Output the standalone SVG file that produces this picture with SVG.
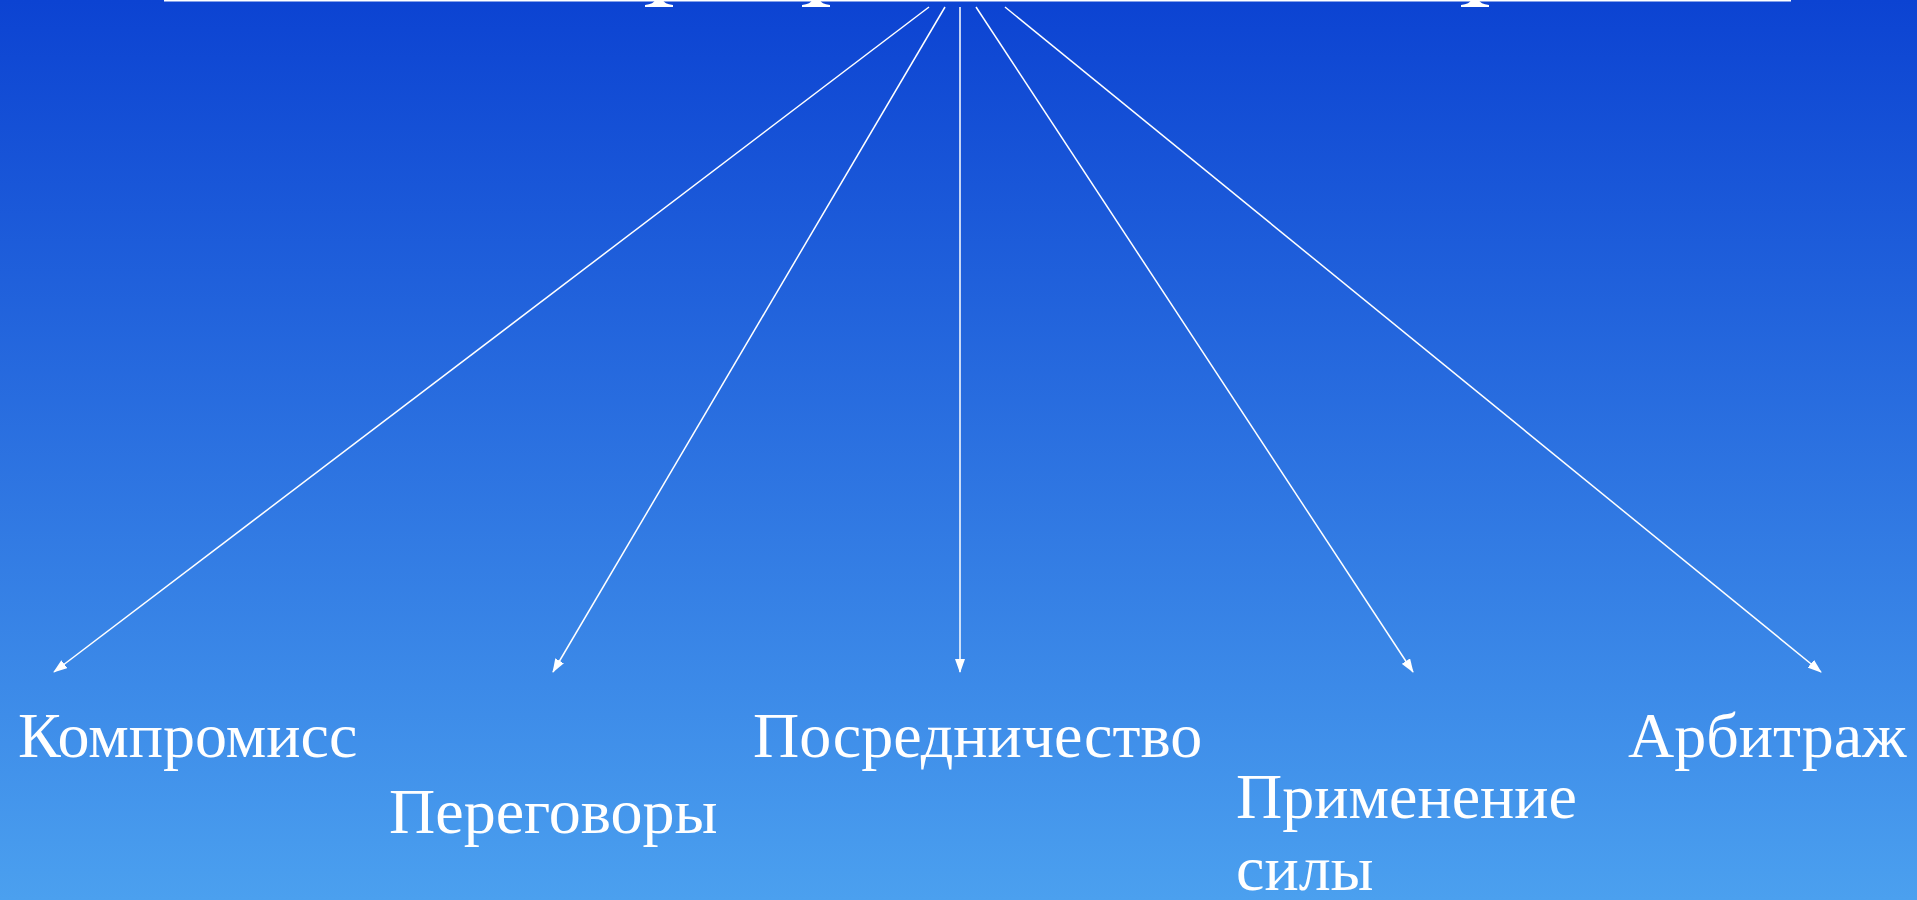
<svg xmlns="http://www.w3.org/2000/svg" width="1917" height="900" viewBox="0 0 1917 900">
  <defs>
    <linearGradient id="bg" x1="0" y1="0" x2="0" y2="1">
      <stop offset="0" stop-color="#0C43D2"/>
      <stop offset="1" stop-color="#4BA0EF"/>
    </linearGradient>
    <marker id="arr" viewBox="0 0 14 10" refX="13" refY="5" markerWidth="14" markerHeight="10" markerUnits="userSpaceOnUse" orient="auto">
      <path d="M0,0 L14,5 L0,10 Z" fill="#ffffff"/>
    </marker>
    <style>
      .lbl { font-family: "Liberation Serif", "Times New Roman", serif; font-size: 64px; fill: #ffffff; }
      .conn { stroke: #ffffff; stroke-width: 1.5; fill: none; marker-end: url(#arr); }
      .foot { fill: #ffffff; }
    </style>
  </defs>
  <rect x="0" y="0" width="1917" height="900" fill="url(#bg)"/>
  <g id="title">
    <rect x="164" y="0" width="1627" height="1.5" fill="#ffffff"/>
    <path class="foot" d="M655,0 L663,0 Q664,4 673,5 L673,7 L645,7 L645,5 Q654,4 655,0 Z"/>
    <path class="foot" d="M812,0 L820,0 Q821,4 830,5 L830,7 L802,7 L802,5 Q811,4 812,0 Z"/>
    <path class="foot" d="M1471,0 L1479,0 Q1480,4 1489,5 L1489,7 L1461,7 L1461,5 Q1470,4 1471,0 Z"/>
  </g>
  <g id="connectors">
    <line class="conn" x1="929" y1="7" x2="54" y2="672"/>
    <line class="conn" x1="945" y1="7" x2="553" y2="672"/>
    <line class="conn" x1="960" y1="7" x2="960" y2="672"/>
    <line class="conn" x1="976" y1="7" x2="1413" y2="672"/>
    <line class="conn" x1="1005" y1="7" x2="1821" y2="672"/>
  </g>
  <g id="n-kompromiss"><text class="lbl" x="18" y="757">Компромисс</text></g>
  <g id="n-peregovory"><text class="lbl" x="389" y="833">Переговоры</text></g>
  <g id="n-posrednichestvo"><text class="lbl" x="753" y="757">Посредничество</text></g>
  <g id="n-primenenie"><text class="lbl" x="1236" y="818">Применение</text><text class="lbl" x="1236" y="890">силы</text></g>
  <g id="n-arbitrazh"><text class="lbl" x="1628" y="757">Арбитраж</text></g>
</svg>
